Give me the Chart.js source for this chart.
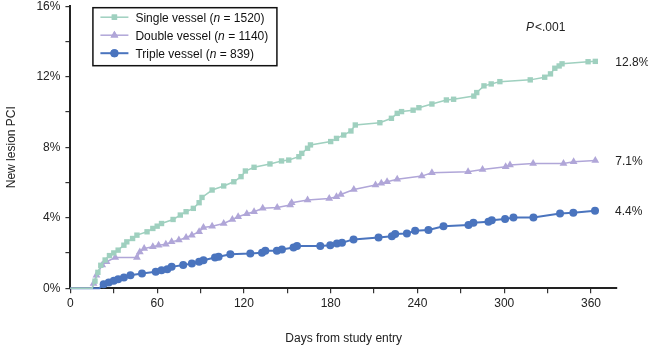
<!DOCTYPE html>
<html>
<head>
<meta charset="utf-8">
<script src="https://cdn.jsdelivr.net/npm/chart.js@4"></script>
<style>
  html, body { margin: 0; padding: 0; background: #fff; overflow: hidden; }
  #wrap { width: 648px; height: 346px; overflow: hidden; }
  #pciChart { display: block; margin-top: -6px; }
</style>
</head>
<body>
<div id="wrap"><canvas id="pciChart" width="648" height="352"></canvas></div>
<script>
// days from study entry and cumulative new-lesion PCI (%)
const singleDays = [0, 15, 17, 19, 21, 24, 27, 30, 33, 37, 39, 43, 46, 53, 57, 60, 63, 71, 76, 80, 85, 89, 91, 98, 106, 113, 118, 121, 127, 138, 146, 151, 158, 160, 164, 166, 180, 184, 189, 194, 197, 214, 222, 226, 229, 237, 241, 250, 260, 265, 279, 281, 286, 291, 297, 318, 328, 332, 335, 338, 340, 358, 363];
const singlePct = [0, 0, 0.4, 0.9, 1.3, 1.6, 1.85, 2.0, 2.16, 2.44, 2.63, 2.82, 3.01, 3.2, 3.39, 3.52, 3.67, 3.9, 4.15, 4.34, 4.53, 4.85, 5.15, 5.57, 5.8, 6.04, 6.33, 6.65, 6.86, 7.05, 7.22, 7.27, 7.46, 7.65, 7.94, 8.13, 8.32, 8.5, 8.69, 8.92, 9.26, 9.39, 9.64, 9.92, 10.02, 10.1, 10.24, 10.45, 10.68, 10.72, 10.9, 11.1, 11.48, 11.59, 11.72, 11.82, 11.97, 12.16, 12.48, 12.61, 12.73, 12.85, 12.87];

const doubleDays = [0, 15, 16, 18, 22, 25, 31, 46, 48, 51, 57, 61, 66, 70, 75, 80, 84, 89, 92, 98, 106, 112, 116, 122, 127, 133, 143, 152, 153, 164, 179, 184, 187, 196, 211, 215, 219, 226, 243, 250, 275, 285, 301, 304, 320, 341, 348, 363];
const doublePct = [0, 0, 0.27, 0.74, 1.31, 1.5, 1.74, 1.74, 2.06, 2.25, 2.35, 2.44, 2.5, 2.63, 2.73, 2.88, 3.01, 3.2, 3.45, 3.52, 3.67, 3.9, 4.05, 4.22, 4.34, 4.53, 4.58, 4.72, 4.85, 5.0, 5.09, 5.19, 5.32, 5.6, 5.85, 5.95, 6.04, 6.18, 6.36, 6.55, 6.61, 6.74, 6.89, 6.99, 7.08, 7.08, 7.18, 7.24];

const tripleDays = [0, 20, 23, 26.5, 30, 33, 37, 41.5, 49.5, 59, 63, 67, 70, 78, 84, 89, 92, 100, 102.5, 110.6, 124.4, 132.5, 134.8, 142.8, 146.3, 154.3, 156.7, 172.8, 179.7, 184.3, 187.8, 195.8, 213.1, 222.3, 224.6, 232.7, 238.4, 247.6, 258, 275.3, 278.7, 289.1, 291.4, 300.6, 306.4, 320.2, 338.6, 347.8, 362.8];
const triplePct = [0, 0, 0.23, 0.32, 0.42, 0.51, 0.61, 0.74, 0.83, 0.93, 1.02, 1.08, 1.21, 1.31, 1.4, 1.5, 1.59, 1.74, 1.78, 1.93, 1.97, 2.01, 2.12, 2.12, 2.2, 2.31, 2.39, 2.39, 2.44, 2.54, 2.58, 2.77, 2.88, 2.95, 3.07, 3.1, 3.26, 3.3, 3.52, 3.58, 3.71, 3.77, 3.86, 3.92, 4.01, 4.01, 4.24, 4.28, 4.39];

const seriesNames = ['Single vessel', 'Double vessel', 'Triple vessel'];
const seriesN = ['1520', '1140', '839'];
const endLabels = ['12.8%', '7.1%', '4.4%'];
const pValueText = '<.001';

const FONT = '"Liberation Sans", Arial, Helvetica, sans-serif';
const colors = ['#9fd0bf', '#b0a6d8', '#4a74be'];
const pointStyles = ['rect', 'triangle', 'circle'];
const pointSizes = [3.8, 4.5, 4];

function toPoints(days, pct) {
    return days.map((d, i) => ({ x: d, y: pct[i] }));
}

const overlayPlugin = {
    id: 'overlay',
    afterDatasetsDraw(chart) {
        const { ctx, chartArea, scales } = chart;
        ctx.save();
        ctx.fillStyle = '#222';
        ctx.textBaseline = 'middle';

        // end-of-curve percentages
        ctx.font = '12px ' + FONT;
        ctx.textAlign = 'left';
        chart.data.datasets.forEach((ds, i) => {
            const last = ds.data[ds.data.length - 1];
            ctx.fillText(endLabels[i], scales.x.getPixelForValue(last.x) + 20, scales.y.getPixelForValue(last.y) + 1);
        });

        // P value
        const py = chartArea.top + 21;
        ctx.font = 'italic 12px ' + FONT;
        ctx.fillText('P', 526, py);
        const pw = ctx.measureText('P').width;
        ctx.font = '12px ' + FONT;
        ctx.fillText(pValueText, 526 + pw + 1, py);

        // legend box
        const bx = chartArea.left + 22, by = chartArea.top + 1;
        ctx.strokeStyle = '#111';
        ctx.lineWidth = 1.5;
        ctx.strokeRect(bx + 0.5, by + 0.5, 184, 58);
        chart.data.datasets.forEach((ds, i) => {
            const y = by + 10 + i * 18;
            ctx.strokeStyle = colors[i];
            ctx.lineWidth = i === 2 ? 2 : 1.5;
            ctx.beginPath();
            ctx.moveTo(bx + 8, y);
            ctx.lineTo(bx + 36, y);
            ctx.stroke();
            ctx.fillStyle = colors[i];
            Chart.helpers.drawPoint(ctx, { pointStyle: pointStyles[i], radius: pointSizes[i], rotation: 0, borderWidth: 0 }, bx + 22, y);
            ctx.fill();

            ctx.fillStyle = '#111';
            let tx = bx + 43;
            ctx.font = '12px ' + FONT;
            const a = seriesNames[i] + ' (';
            ctx.fillText(a, tx, y + 1);
            tx += ctx.measureText(a).width;
            ctx.font = 'italic 12px ' + FONT;
            ctx.fillText('n', tx, y + 1);
            tx += ctx.measureText('n').width;
            ctx.font = '12px ' + FONT;
            ctx.fillText(' = ' + seriesN[i] + ')', tx, y + 1);
        });
        ctx.restore();
    }
};

function makeDataset(i, days, pct) {
    return {
        label: seriesNames[i],
        data: toPoints(days, pct),
        borderColor: colors[i],
        backgroundColor: colors[i],
        borderWidth: i === 2 ? 2 : 1.5,
        pointStyle: pointStyles[i],
        pointRadius: c => (c.raw && c.raw.y === 0 ? 0 : pointSizes[i]),
        pointBorderWidth: 0,
        pointHoverRadius: pointSizes[i],
        clip: false,
        tension: 0
    };
}

new Chart(document.getElementById('pciChart'), {
    type: 'line',
    data: {
        datasets: [
            makeDataset(0, singleDays, singlePct),
            makeDataset(1, doubleDays, doublePct),
            makeDataset(2, tripleDays, triplePct)
        ]
    },
    options: {
        responsive: false,
        animation: false,
        layout: { padding: { left: 0, right: 31, top: 0, bottom: 0 } },
        plugins: { legend: { display: false }, tooltip: { enabled: false } },
        scales: {
            x: {
                type: 'linear',
                min: 0,
                max: 378,
                afterBuildTicks: axis => { axis.ticks = axis.ticks.filter(t => t.value % 30 === 0); },
                ticks: {
                    stepSize: 30,
                    includeBounds: false,
                    autoSkip: false,
                    maxRotation: 0,
                    color: '#222',
                    font: { family: FONT, size: 12 },
                    callback: v => (v % 60 === 0 ? String(v) : '')
                },
                grid: { display: true, drawOnChartArea: false, tickLength: 5, color: '#333', lineWidth: 1.2 },
                border: { display: true, color: '#222', width: 2 },
                title: { display: true, text: 'Days from study entry', color: '#222', font: { family: FONT, size: 12 }, padding: { top: 18, bottom: 0 } }
            },
            y: {
                min: 0,
                max: 16,
                ticks: {
                    stepSize: 2,
                    autoSkip: false,
                    color: '#222',
                    font: { family: FONT, size: 12 },
                    padding: 5,
                    callback: v => (v % 4 === 0 ? v + '%' : '')
                },
                grid: { display: true, drawOnChartArea: false, tickLength: 5, color: '#333', lineWidth: 1.2 },
                border: { display: true, color: '#222', width: 2 },
                title: { display: true, text: 'New lesion PCI', color: '#222', font: { family: FONT, size: 12 }, padding: { top: 4, bottom: 13 } }
            }
        }
    },
    plugins: [overlayPlugin]
});
</script>
</body>
</html>
